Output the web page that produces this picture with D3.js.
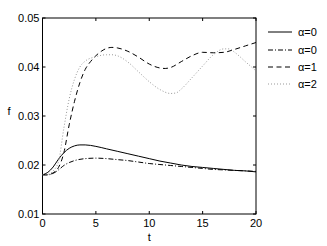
<!DOCTYPE html>
<html>
<head>
<meta charset="utf-8">
<script src="https://cdn.jsdelivr.net/npm/d3@7"></script>
<style>
  body { margin: 0; background: #fff; }
  text { font-family: "Liberation Sans", Arial, sans-serif; }
</style>
</head>
<body>
<svg width="327" height="246"></svg>
<script>
// data
const tSolid = [0, 0.5, 1, 1.5, 2, 2.5, 3, 3.5, 4, 5, 6, 7, 8, 9, 10, 11, 12, 13, 14, 15, 16, 17, 18, 19, 20];
const fSolid = [0.018, 0.0185, 0.0196, 0.0212, 0.0225, 0.0234, 0.0239, 0.0241, 0.0241, 0.0238, 0.0233, 0.0228, 0.0223, 0.0218, 0.0213, 0.0208, 0.0204, 0.0200, 0.0197, 0.0195, 0.0193, 0.0191, 0.0189, 0.0188, 0.0186];

const tDashDot = [0, 0.5, 1, 1.5, 2, 2.5, 3, 4, 5, 6, 7, 8, 9, 10, 11, 12, 13, 14, 15, 16, 17, 18, 19, 20];
const fDashDot = [0.018, 0.018, 0.0183, 0.0190, 0.0199, 0.0205, 0.0209, 0.0213, 0.0214, 0.0213, 0.0211, 0.0209, 0.0206, 0.0203, 0.0201, 0.0199, 0.0197, 0.0195, 0.0193, 0.0191, 0.0190, 0.0189, 0.0188, 0.0187];

const tDashed = [0, 0.5, 1, 1.5, 2, 2.5, 3, 3.5, 4, 4.5, 5, 5.5, 6, 6.5, 7, 8, 9, 10, 11, 11.5, 12, 13, 14, 15, 16, 17, 18, 19, 20];
const fDashed = [0.018, 0.018, 0.0184, 0.0195, 0.0225, 0.0282, 0.0330, 0.0368, 0.0395, 0.0411, 0.0423, 0.0432, 0.0438, 0.0440, 0.0439, 0.0432, 0.0420, 0.0406, 0.0398, 0.0397, 0.0399, 0.0411, 0.0423, 0.0430, 0.0429, 0.0430, 0.0436, 0.0443, 0.0450];

const tDotted = [0, 0.5, 1, 1.5, 2, 2.5, 3, 3.5, 4, 5, 6, 6.5, 7, 8, 9, 10, 11, 12, 12.5, 13, 14, 15, 16, 17, 17.5, 18, 19, 20];
const fDotted = [0.018, 0.0181, 0.0188, 0.0207, 0.0275, 0.0335, 0.0375, 0.0400, 0.0412, 0.0421, 0.0425, 0.0425, 0.0423, 0.0410, 0.0390, 0.0370, 0.0354, 0.0346, 0.0347, 0.0355, 0.0378, 0.0402, 0.0425, 0.0437, 0.0437, 0.0430, 0.0411, 0.0392];

const legendLabels = ["\u03b1=0", "\u03b1=0", "\u03b1=1", "\u03b1=2"];
const xTicks = [0, 5, 10, 15, 20];
const yTicks = [0.01, 0.02, 0.03, 0.04, 0.05];

const svg = d3.select("svg");
const plotL = 42.5, plotR = 256, plotT = 18, plotB = 214;

const x = d3.scaleLinear().domain([0, 20]).range([plotL, plotR]);
const y = d3.scaleLinear().domain([0.01, 0.05]).range([plotB, plotT]);

// axes box
svg.append("rect")
   .attr("x", plotL).attr("y", plotT)
   .attr("width", plotR - plotL).attr("height", plotB - plotT)
   .attr("fill", "none").attr("stroke", "#000").attr("stroke-width", 1);

// inward ticks on all four sides
const tl = 3;
xTicks.forEach(v => {
  svg.append("line").attr("x1", x(v)).attr("x2", x(v)).attr("y1", plotB).attr("y2", plotB - tl).attr("stroke", "#000");
  svg.append("line").attr("x1", x(v)).attr("x2", x(v)).attr("y1", plotT).attr("y2", plotT + tl).attr("stroke", "#000");
  svg.append("text").attr("x", x(v)).attr("y", plotB + 13)
     .attr("text-anchor", "middle").attr("font-size", "11px").text(v);
});
yTicks.forEach(v => {
  svg.append("line").attr("x1", plotL).attr("x2", plotL + tl).attr("y1", y(v)).attr("y2", y(v)).attr("stroke", "#000");
  svg.append("line").attr("x1", plotR).attr("x2", plotR - tl).attr("y1", y(v)).attr("y2", y(v)).attr("stroke", "#000");
  svg.append("text").attr("x", plotL - 3).attr("y", y(v) + 4)
     .attr("text-anchor", "end").attr("font-size", "11px").text(d3.format(".2f")(v));
});

// axis labels
svg.append("text").attr("x", x(10)).attr("y", 241)
   .attr("text-anchor", "middle").attr("font-size", "11px").text("t");
svg.append("text").attr("x", 9).attr("y", 115)
   .attr("text-anchor", "middle").attr("font-size", "11px").text("f");

const series = [
  { t: tSolid, f: fSolid, color: "#000", dash: null },
  { t: tDashDot, f: fDashDot, color: "#000", dash: "5,2,1,2" },
  { t: tDashed, f: fDashed, color: "#000", dash: "5,3.5" },
  { t: tDotted, f: fDotted, color: "#999", dash: "1,2" }
];

const line = d3.line()
   .x(d => x(d[0]))
   .y(d => y(d[1]))
   .curve(d3.curveMonotoneX);

series.forEach(s => {
  svg.append("path")
     .datum(d3.zip(s.t, s.f))
     .attr("d", line)
     .attr("fill", "none")
     .attr("stroke", s.color)
     .attr("stroke-width", 1)
     .attr("stroke-dasharray", s.dash);
});

// legend
const ly = [32, 50, 67, 84];
series.forEach((s, i) => {
  svg.append("line")
     .attr("x1", 268).attr("x2", 292)
     .attr("y1", ly[i]).attr("y2", ly[i])
     .attr("stroke", s.color).attr("stroke-width", 1)
     .attr("stroke-dasharray", s.dash);
  svg.append("text")
     .attr("x", 298).attr("y", ly[i] + 4)
     .attr("font-size", "11px")
     .text(legendLabels[i]);
});
</script>
</body>
</html>
